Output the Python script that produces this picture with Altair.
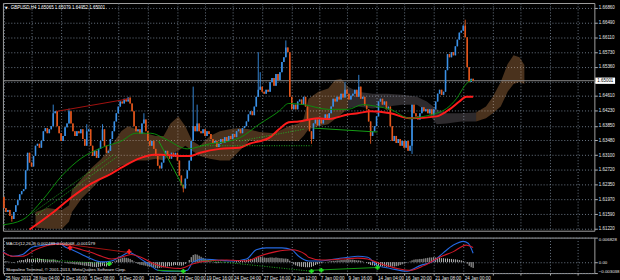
import altair as alt
import pandas as pd

# ---------------- texts ----------------
TITLE = "GBPUSD,H4  1.65065 1.65079 1.64952 1.65001"
MACD_TITLE = "MACD(12,26,9) 0.002489 0.004068 -0.001579"
COPYRIGHT = "Skopalino Terminal, \u00a9 2001-2013, MetaQuotes Software Corp."
LAST_PRICE = 1.65001

# ---------------- candles (H4, one value per bar) ----------------
first_open = 1.6203
closes = [
    1.6175, 1.6165, 1.6170, 1.6155, 1.6147, 1.6165, 1.6182, 1.6195, 1.6210, 1.6218,
    1.6223, 1.6271, 1.6316, 1.6291, 1.6281, 1.6308, 1.6334, 1.6339, 1.6329, 1.6346,
    1.6371, 1.6379, 1.6366, 1.6376, 1.6384, 1.6417, 1.6422, 1.6384, 1.6366, 1.6346,
    1.6359, 1.6381, 1.6391, 1.6422, 1.6391, 1.6371, 1.6359, 1.6371, 1.6366, 1.6376,
    1.6351, 1.6334, 1.6371, 1.6376, 1.6334, 1.6308, 1.6321, 1.6303, 1.6326, 1.6346,
    1.6376, 1.6334, 1.6316, 1.6321, 1.6351, 1.6371, 1.6396, 1.6417, 1.6434, 1.6447,
    1.6442, 1.6454, 1.6447, 1.6457, 1.6442, 1.6422, 1.6384, 1.6371, 1.6376, 1.6364,
    1.6391, 1.6401, 1.6371, 1.6346, 1.6334, 1.6346, 1.6326, 1.6308, 1.6283, 1.6276,
    1.6291, 1.6308, 1.6321, 1.6308, 1.6301, 1.6316, 1.6306, 1.6316, 1.6296, 1.6258,
    1.6233, 1.6225, 1.6250, 1.6271, 1.6296, 1.6346, 1.6384, 1.6371, 1.6391, 1.6371,
    1.6366, 1.6376, 1.6359, 1.6371, 1.6364, 1.6351, 1.6341, 1.6346, 1.6331, 1.6339,
    1.6351, 1.6341, 1.6356, 1.6346, 1.6359, 1.6351, 1.6364, 1.6356, 1.6371, 1.6376,
    1.6366, 1.6379, 1.6384, 1.6396, 1.6414, 1.6422, 1.6412, 1.6434, 1.6459, 1.6477,
    1.6485, 1.6472, 1.6467, 1.6477, 1.6472, 1.6497, 1.6507, 1.6487, 1.6517, 1.6502,
    1.6522, 1.6548, 1.6560, 1.6585, 1.6573, 1.6459, 1.6427, 1.6439, 1.6427, 1.6447,
    1.6452, 1.6439, 1.6459, 1.6434, 1.6401, 1.6371, 1.6351, 1.6391, 1.6401, 1.6386,
    1.6401, 1.6391, 1.6401, 1.6414, 1.6401, 1.6417, 1.6434, 1.6454, 1.6447, 1.6459,
    1.6452, 1.6467, 1.6457, 1.6477, 1.6467, 1.6452, 1.6462, 1.6467, 1.6477, 1.6459,
    1.6485, 1.6454, 1.6459, 1.6437, 1.6427, 1.6396, 1.6359, 1.6371, 1.6384, 1.6409,
    1.6447, 1.6454, 1.6439, 1.6447, 1.6427, 1.6434, 1.6384, 1.6346, 1.6359, 1.6341,
    1.6351, 1.6334, 1.6346, 1.6329, 1.6346, 1.6321, 1.6334, 1.6439, 1.6417, 1.6409,
    1.6401, 1.6417, 1.6432, 1.6422, 1.6427, 1.6417, 1.6427, 1.6412, 1.6427, 1.6447,
    1.6467, 1.6477, 1.6464, 1.6472, 1.6527, 1.6568, 1.6560, 1.6573, 1.6565, 1.6588,
    1.6605, 1.6623, 1.6628, 1.6641, 1.6611, 1.6535, 1.6497, 1.6505, 1.6500,
]
spike_high = {25: 1.6439, 33: 1.6429, 42: 1.6389, 50: 1.6389, 71: 1.6417, 96: 1.6485,
              98: 1.6439, 129: 1.6573, 130: 1.6522, 143: 1.6603, 173: 1.6497,
              180: 1.6515, 234: 1.6656}
spike_low = {4: 1.6140, 91: 1.6215, 156: 1.6339, 186: 1.6339, 207: 1.6313}

# ---------------- moving averages ----------------
red_ma_bar = [13, 24.5, 34.5, 44.5, 54.5, 59.5, 69.5, 76, 79.5, 89.5, 94.5, 99.5, 109.5,
              119.5, 124.5, 134.5, 139.5, 144.5, 149.5, 159.5, 164.5, 174.5, 179.5, 186,
              196, 206, 219.5, 226, 231, 234.5, 238]
red_ma_val = [1.6120, 1.6162, 1.6203, 1.6238, 1.6263, 1.6278, 1.6303, 1.6311, 1.6311,
              1.6308, 1.6308, 1.6316, 1.6326, 1.6329, 1.6339, 1.6354, 1.6376, 1.6394,
              1.6396, 1.6404, 1.6402, 1.6414, 1.6417, 1.6422, 1.6417, 1.6404, 1.6409,
              1.6427, 1.6447, 1.6459, 1.6459]
green_ma_bar = [-0.5, 9.5, 19.5, 29.5, 39.5, 49.5, 59.5, 67, 74.5, 82, 93, 104.5, 114.5,
                119.5, 129.5, 139.5, 144.5, 152, 164.5, 174.5, 182, 189.5, 196, 206, 213,
                219.5, 224.5, 229.5, 234.5, 237.5]
green_ma_val = [1.6132, 1.6145, 1.6195, 1.6258, 1.6303, 1.6329, 1.6346, 1.6366, 1.6366,
                1.6351, 1.6326, 1.6339, 1.6346, 1.6354, 1.6389, 1.6422, 1.6442, 1.6439,
                1.6427, 1.6427, 1.6439, 1.6434, 1.6427, 1.6404, 1.6409, 1.6417, 1.6429,
                1.6454, 1.6492, 1.6502]

# ---------------- Ichimoku cloud (three pieces) ----------------
cloud1_bar = [16, 22, 29.5, 33, 34.5, 39.5, 44.5, 49.5, 54.5, 59.5, 63, 67, 72, 77, 81,
              84.5, 88.5, 92, 95.5, 99.5, 104.5, 109.5, 114.5, 119.5, 124.5, 129.5, 137,
              144.5, 149.5, 152, 154.5, 159.5, 164.5, 168, 171, 174.5]
cloud1_top = [1.6165, 1.6175, 1.6170, 1.6182, 1.6220, 1.6250, 1.6278, 1.6301, 1.6334,
              1.6371, 1.6384, 1.6376, 1.6366, 1.6359, 1.6359, 1.6391, 1.6409, 1.6384,
              1.6346, 1.6334, 1.6359, 1.6371, 1.6376, 1.6379, 1.6376, 1.6369, 1.6366,
              1.6384, 1.6391, 1.6402, 1.6454, 1.6472, 1.6480, 1.6502, 1.6505, 1.6485]
cloud1_bot = [1.6125, 1.6122, 1.6122, 1.6140, 1.6165, 1.6200, 1.6225, 1.6250, 1.6266,
              1.6283, 1.6288, 1.6296, 1.6296, 1.6301, 1.6296, 1.6313, 1.6321, 1.6334,
              1.6321, 1.6308, 1.6301, 1.6296, 1.6296, 1.6321, 1.6346, 1.6346, 1.6346,
              1.6346, 1.6346, 1.6359, 1.6376, 1.6384, 1.6389, 1.6402, 1.6414, 1.6429]
cloud2_bar = [174.5, 179.5, 187, 194.5, 202, 209.5, 214.5, 219.5, 224.5, 232, 239.5]
cloud2_top = [1.6485, 1.6472, 1.6467, 1.6467, 1.6464, 1.6459, 1.6447, 1.6427, 1.6417,
              1.6417, 1.6419]
cloud2_bot = [1.6429, 1.6434, 1.6429, 1.6434, 1.6439, 1.6439, 1.6422, 1.6389, 1.6391,
              1.6396, 1.6396]
cloud3_bar = [239.5, 244.5, 248, 252, 255.5, 258.5, 261.5, 264]
cloud3_top = [1.6419, 1.6434, 1.6459, 1.6497, 1.6543, 1.6565, 1.6560, 1.6540]
cloud3_bot = [1.6396, 1.6404, 1.6417, 1.6434, 1.6472, 1.6492, 1.6497, 1.6492]

# ---------------- drawn trend lines (price panel) ----------------
trend_darkred = [(27, 1.6422), (63.5, 1.6454)]
trend_green_solid = [[(78.5, 1.6346), (91, 1.6228)], [(157, 1.6379), (189.5, 1.6369)]]
trend_green_dot = [[(14.5, 1.6162), (56, 1.6313)], [(16.5, 1.6157), (58, 1.6308)],
                   [(99.5, 1.6334), (156, 1.6334)], [(119.5, 1.6346), (152, 1.6376)]]

# ---------------- MACD panel ----------------
hist = [
    0.0002, 0.0003, 0.0002, 0.0001, -0.0001, -0.0002, 0.0000, 0.0003, 0.0005, 0.0006,
    0.0006, 0.0008, 0.0010, 0.0009, 0.0008, 0.0009, 0.0010, 0.0011, 0.0010, 0.0009,
    0.0009, 0.0008, 0.0008, 0.0007, 0.0007, 0.0008, 0.0007, 0.0005, 0.0003, 0.0001,
    0.0000, -0.0002, -0.0003, -0.0004, -0.0004, -0.0005, -0.0006, -0.0006, -0.0007, -0.0008,
    -0.0009, -0.0010, -0.0010, -0.0011, -0.0012, -0.0013, -0.0013, -0.0014, -0.0013, -0.0012,
    -0.0010, -0.0011, -0.0012, -0.0010, -0.0006, -0.0002, 0.0002, 0.0005, 0.0008, 0.0010,
    0.0012, 0.0013, 0.0012, 0.0011, 0.0009, 0.0006, 0.0002, -0.0002, -0.0005, -0.0007,
    -0.0008, -0.0009, -0.0010, -0.0012, -0.0013, -0.0014, -0.0015, -0.0016, -0.0017, -0.0016,
    -0.0015, -0.0014, -0.0013, -0.0012, -0.0011, -0.0010, -0.0009, -0.0008, -0.0008, -0.0009,
    -0.0010, -0.0009, -0.0005, 0.0000, 0.0006, 0.0014, 0.0020, 0.0022, 0.0021, 0.0018,
    0.0015, 0.0012, 0.0009, 0.0006, 0.0004, 0.0002, 0.0000, -0.0002, -0.0003, -0.0002,
    -0.0001, 0.0000, 0.0001, 0.0000, -0.0001, 0.0000, 0.0001, 0.0002, 0.0003, 0.0003,
    0.0004, 0.0004, 0.0005, 0.0006, 0.0008, 0.0009, 0.0009, 0.0010, 0.0012, 0.0014,
    0.0015, 0.0014, 0.0013, 0.0012, 0.0012, 0.0013, 0.0013, 0.0012, 0.0013, 0.0012,
    0.0011, 0.0011, 0.0010, 0.0010, 0.0009, 0.0004, -0.0002, -0.0006, -0.0009, -0.0011,
    -0.0012, -0.0013, -0.0013, -0.0014, -0.0014, -0.0014, -0.0013, -0.0011, -0.0008, -0.0006,
    -0.0004, -0.0003, -0.0001, 0.0000, 0.0001, 0.0002, 0.0003, 0.0004, 0.0004, 0.0005,
    0.0005, 0.0006, 0.0006, 0.0007, 0.0008, 0.0008, 0.0007, 0.0007, 0.0006, 0.0005,
    0.0005, 0.0004, 0.0002, 0.0000, -0.0002, -0.0005, -0.0008, -0.0009, -0.0010, -0.0011,
    -0.0011, -0.0011, -0.0012, -0.0012, -0.0013, -0.0013, -0.0013, -0.0012, -0.0012, -0.0011,
    -0.0010, -0.0008, -0.0006, -0.0004, -0.0002, 0.0000, 0.0002, 0.0005, 0.0007, 0.0008,
    0.0008, 0.0009, 0.0009, 0.0010, 0.0011, 0.0012, 0.0013, 0.0013, 0.0014, 0.0013,
    0.0012, 0.0012, 0.0011, 0.0011, 0.0010, 0.0010, 0.0009, 0.0009, 0.0008, 0.0008,
    0.0007, 0.0006, 0.0005, 0.0003, 0.0001, -0.0004, -0.0010, -0.0014, -0.0016,
]
macd_bar = [-0.5, 4.5, 9.5, 14.5, 21, 28, 31, 34.5, 39.5, 44.5, 49.5, 54.5, 59.5, 63.5, 66,
            69.5, 74.5, 78, 83, 89.5, 93, 96, 101, 108, 116, 123, 128, 133, 141, 146,
            149.5, 154.5, 161, 168, 174.5, 179.5, 184.5, 189.5, 196, 204.5, 211, 218, 223,
            228, 233, 235.5, 238]
macd_val = [0.00293, 0.00164, 0.00215, 0.00423, 0.00475, 0.00527, 0.00423, 0.00345, 0.00215,
            0.00086, 0.00008, 0.00034, 0.00164, 0.00267, 0.00215, 0.00086, -0.00096, -0.00226,
            -0.00252, -0.00252, -0.00226, 0.00008, 0.00086, 0.00060, 0.00034, 0.00086, 0.00345,
            0.00397, 0.00397, 0.00345, 0.00164, 0.00034, 0.00034, 0.00086, 0.00138, 0.00164,
            0.00138, -0.00096, -0.00174, -0.00252, -0.00096, 0.00034, 0.00267, 0.00475,
            0.00579, 0.00527, 0.00249]
signal_bar = [-0.5, 4.5, 9.5, 16, 23, 28, 33, 39.5, 44.5, 49.5, 54.5, 59.5, 64.5, 69.5, 76,
              83, 89.5, 96, 103, 113, 123, 129.5, 138, 146, 153, 154.5, 161, 171, 179.5,
              184.5, 191, 199.5, 206, 213, 221, 228, 234.5, 238]
signal_val = [0.00267, 0.00164, 0.00164, 0.00345, 0.00475, 0.00501, 0.00449, 0.00345,
              0.00267, 0.00164, 0.00086, 0.00138, 0.00215, 0.00138, -0.00044, -0.00148,
              -0.00174, -0.00044, 0.00034, 0.00060, 0.00034, 0.00164, 0.00293, 0.00345,
              0.00215, 0.00138, 0.00060, 0.00086, 0.00112, 0.00086, -0.00044, -0.00174,
              -0.00226, -0.00096, 0.00138, 0.00293, 0.00475, 0.00407]
macd_darkred = [(28, 0.00527), (63.5, 0.00267)]
macd_green_solid = [[(78, -0.00226), (91, -0.00252)], [(156, -0.00226), (189.5, -0.00148)]]
macd_green_dot = [[(14.5, 0.00086), (53.5, -0.00044)], [(101, 0.00060), (156, -0.00252)]]
cross_green_bar = [53.5, 91, 156, 161, 189.5]
cross_green_val = [-0.00044, -0.00252, -0.00252, -0.00226, -0.00148]
cross_red_bar = [33.5, 63.5]
cross_red_val = [0.00397, 0.00293]

# ---------------- axes ----------------
price_ticks = [1.66860, 1.66490, 1.66110, 1.65730, 1.65360, 1.64980, 1.64610, 1.64230,
               1.63850, 1.63480, 1.63100, 1.62720, 1.62350, 1.61970, 1.61590, 1.61220]
time_pos = [0, 14, 29, 43, 58, 73, 88, 102, 116, 131, 146, 160, 174, 189, 203, 218, 233]
time_lbl = ["25 Nov 2013", "28 Nov 04:00", "2 Dec 16:00", "5 Dec 08:00", "9 Dec 20:00",
            "12 Dec 12:00", "17 Dec 00:00", "19 Dec 16:00", "24 Dec 04:00", "27 Dec 16:00",
            "2 Jan 12:00", "7 Jan 00:00", "9 Jan 16:00", "14 Jan 04:00", "16 Jan 20:00",
            "21 Jan 08:00", "24 Jan 00:00"]
extra_grid = [248, 262, 277, 291]

# ---------------- styles ----------------
BG = "#000000"
GRID = "#6c7886"
TXT = "#e8e8e8"
FONT = "Liberation Sans"
BLUE_C = "#3a90e6"
ORANGE_C = "#e2561c"
RED_MA = "#ff1c1c"
GREEN_MA = "#0c8c0c"
TAN = "#f4a460"
THISTLE = "#cfc0cf"
W, H_P, H_M = 600, 231, 36

# ---------------- tables ----------------
n = len(closes)
opens = [first_open] + closes[:-1]
highs = [max(o, c, spike_high.get(i, c)) for i, (o, c) in enumerate(zip(opens, closes))]
lows = [min(o, c, spike_low.get(i, c)) for i, (o, c) in enumerate(zip(opens, closes))]
cdf = pd.DataFrame({"bar": list(range(n)), "open": opens, "close": closes,
                    "high": highs, "low": lows})
up_df = cdf[cdf["close"] >= cdf["open"]]
dn_df = cdf[cdf["close"] < cdf["open"]]

red_df = pd.DataFrame({"bar": red_ma_bar, "v": red_ma_val})
green_df = pd.DataFrame({"bar": green_ma_bar, "v": green_ma_val})
tan_df = pd.concat([
    pd.DataFrame({"bar": cloud1_bar, "top": cloud1_top, "bot": cloud1_bot, "seg": "a"}),
    pd.DataFrame({"bar": cloud3_bar, "top": cloud3_top, "bot": cloud3_bot, "seg": "c"}),
])
gray_df = pd.DataFrame({"bar": cloud2_bar, "top": cloud2_top, "bot": cloud2_bot})


def seg_df(segments):
    rows = []
    for si, seg in enumerate(segments):
        for b, v in seg:
            rows.append({"seg": si, "bar": b, "v": v})
    return pd.DataFrame(rows)


tr_red = seg_df([trend_darkred])
tr_gs = seg_df(trend_green_solid)
tr_gd = seg_df(trend_green_dot)

hist_df = pd.DataFrame({"bar": list(range(len(hist))), "h": hist, "z": 0.0})
macd_df = pd.DataFrame({"bar": macd_bar, "v": macd_val})
sig_df = pd.DataFrame({"bar": signal_bar, "v": signal_val})
m_red = seg_df([macd_darkred])
m_gs = seg_df(macd_green_solid)
m_gd = seg_df(macd_green_dot)
cg_df = pd.DataFrame({"bar": cross_green_bar, "v": cross_green_val})
cr_df = pd.DataFrame({"bar": cross_red_bar, "v": cross_red_val})

# ---------------- scales & axes ----------------
xs = alt.Scale(domain=[-0.5, 299.5], nice=False, zero=False)
ys = alt.Scale(domain=[1.61169, 1.66986], nice=False, zero=False)
ms = alt.Scale(domain=[-0.003038, 0.006828], nice=False, zero=False)

grid_vals = time_pos + extra_grid
time_expr = " : ".join(f"datum.value == {p} ? '{l}'" for p, l in zip(time_pos, time_lbl)) + " : ''"

ax_top = alt.Axis(values=grid_vals, grid=True, gridDash=[1, 2], gridColor=GRID,
                  labels=False, ticks=False, domain=False, title=None)
ax_bot = alt.Axis(values=grid_vals, grid=True, gridDash=[1, 2], gridColor=GRID,
                  labelExpr=time_expr, labelAlign="left", labelFontSize=4.6,
                  labelColor=TXT, labelFont=FONT, labelPadding=1, labelOffset=1,
                  tickSize=2, tickColor="#b0b0b0", domain=False, title=None,
                  labelOverlap=False, labelFlush=False, labelBound=False)
ay_price = alt.Axis(orient="right", values=price_ticks, grid=True, gridDash=[1, 2],
                    gridColor=GRID,
                    labelExpr="abs(datum.value - 1.6498) < 0.00001 ? '' : format(datum.value, '.5f')",
                    labelFontSize=4.5, labelColor=TXT, labelFont=FONT, labelPadding=1,
                    tickSize=3, tickColor="#b0b0b0", domain=False, title=None,
                    labelOverlap=False)
ay_macd = alt.Axis(orient="right", values=[0.006828, 0.0, -0.003038], grid=True,
                   gridDash=[1, 2], gridColor=GRID,
                   labelExpr="datum.value == 0 ? '0.00' : format(datum.value, '.6f')",
                   labelFontSize=4.4, labelColor=TXT, labelFont=FONT, labelPadding=1,
                   labelFlush=True, tickSize=3, tickColor="#b0b0b0", domain=False,
                   title=None, labelOverlap=False)


def PX(f):
    return alt.X(f, type="quantitative", scale=xs, axis=ax_top)


def PY(f):
    return alt.Y(f, type="quantitative", scale=ys, axis=ay_price)


def MX(f):
    return alt.X(f, type="quantitative", scale=xs, axis=ax_bot)


def MY(f):
    return alt.Y(f, type="quantitative", scale=ms, axis=ay_macd)


# ---------------- price panel ----------------
cloud_tan = alt.Chart(tan_df).mark_area(opacity=0.3, color=TAN).encode(
    x=PX("bar"), y=PY("top"), y2="bot", detail="seg:N")
cloud_gray = alt.Chart(gray_df).mark_area(opacity=0.22, color=THISTLE).encode(
    x=PX("bar"), y=PY("top"), y2="bot")
last_df = pd.DataFrame({"p": [LAST_PRICE], "t": [f"{LAST_PRICE:.5f}"]})
last_line = alt.Chart(last_df).mark_rule(color="#8a8a8a", strokeWidth=1).encode(y=PY("p"))

wick_up = alt.Chart(up_df).mark_rule(strokeWidth=0.9, color=BLUE_C).encode(
    x=PX("bar"), y=PY("low"), y2="high")
body_up = alt.Chart(up_df).mark_rule(strokeWidth=1.6, color=BLUE_C).encode(
    x=PX("bar"), y=PY("open"), y2="close")
wick_dn = alt.Chart(dn_df).mark_rule(strokeWidth=0.9, color=ORANGE_C).encode(
    x=PX("bar"), y=PY("low"), y2="high")
body_dn = alt.Chart(dn_df).mark_rule(strokeWidth=1.6, color=ORANGE_C).encode(
    x=PX("bar"), y=PY("open"), y2="close")

ma_red = alt.Chart(red_df).mark_line(interpolate="monotone", color=RED_MA, strokeWidth=2).encode(
    x=PX("bar"), y=PY("v"))
ma_green = alt.Chart(green_df).mark_line(interpolate="monotone", color=GREEN_MA, strokeWidth=1).encode(
    x=PX("bar"), y=PY("v"))
tl_red = alt.Chart(tr_red).mark_line(color="#a3120f", strokeWidth=1).encode(
    x=PX("bar"), y=PY("v"), detail="seg:N")
tl_gs = alt.Chart(tr_gs).mark_line(color="#15a015", strokeWidth=1).encode(
    x=PX("bar"), y=PY("v"), detail="seg:N")
tl_gd = alt.Chart(tr_gd).mark_line(color="#22b022", strokeWidth=1, strokeDash=[1, 1.5]).encode(
    x=PX("bar"), y=PY("v"), detail="seg:N")

title_txt = alt.Chart(pd.DataFrame({"t": [TITLE]})).mark_text(
    align="left", baseline="middle", font=FONT, fontSize=4.5, color="#ffffff").encode(
    x=alt.value(8), y=alt.value(5), text="t:N")
tri_txt = alt.Chart(pd.DataFrame({"t": ["\u25bc"]})).mark_text(
    align="left", baseline="middle", font="DejaVu Sans", fontSize=3.5, color="#ffffff").encode(
    x=alt.value(2), y=alt.value(5), text="t:N")

box = alt.Chart(last_df).mark_point(
    shape="M-1,-0.32L1,-0.32L1,0.32L-1,0.32Z", filled=True, size=400, opacity=1,
    color="#ffffff", strokeWidth=0).encode(x=alt.value(611), y=PY("p"))
box_txt = alt.Chart(last_df).mark_text(align="left", baseline="middle", font=FONT,
                                       fontSize=4.5, color="#000000").encode(
    x=alt.value(603), y=PY("p"), text="t:N")

price = alt.layer(cloud_tan, cloud_gray, last_line, wick_up, body_up, wick_dn, body_dn,
                  ma_red, ma_green, tl_red, tl_gs, tl_gd,
                  title_txt, tri_txt, box, box_txt).properties(width=W, height=H_P)

# ---------------- MACD panel ----------------
hbars = alt.Chart(hist_df).mark_rule(color="#b8b8b8", strokeWidth=1).encode(
    x=MX("bar"), y=MY("z"), y2="h")
l_macd = alt.Chart(macd_df).mark_line(strokeWidth=1.1, interpolate="monotone", color="#2468e0").encode(
    x=MX("bar"), y=MY("v"))
l_sig = alt.Chart(sig_df).mark_line(strokeWidth=1.1, interpolate="monotone", color="#d01828").encode(
    x=MX("bar"), y=MY("v"))
ml_red = alt.Chart(m_red).mark_line(color="#a3120f", strokeWidth=1).encode(
    x=MX("bar"), y=MY("v"), detail="seg:N")
ml_gs = alt.Chart(m_gs).mark_line(color="#15a015", strokeWidth=1).encode(
    x=MX("bar"), y=MY("v"), detail="seg:N")
ml_gd = alt.Chart(m_gd).mark_line(color="#22b022", strokeWidth=1, strokeDash=[1, 1.5]).encode(
    x=MX("bar"), y=MY("v"), detail="seg:N")
cross_g = alt.Chart(cg_df).mark_point(shape="cross", filled=True, size=22, opacity=1,
                                      color="#22dd22").encode(x=MX("bar"), y=MY("v"))
cross_r = alt.Chart(cr_df).mark_point(shape="cross", filled=True, size=22, opacity=1,
                                      color="#ff2020").encode(x=MX("bar"), y=MY("v"))
macd_txt = alt.Chart(pd.DataFrame({"t": [MACD_TITLE]})).mark_text(
    align="left", baseline="middle", font=FONT, fontSize=4.4, color=TXT).encode(
    x=alt.value(3), y=alt.value(6), text="t:N")
copy_txt = alt.Chart(pd.DataFrame({"t": [COPYRIGHT]})).mark_text(
    align="left", baseline="middle", font=FONT, fontSize=4.4, color=TXT).encode(
    x=alt.value(3), y=alt.value(33), text="t:N")

macd = alt.layer(hbars, l_macd, l_sig, ml_red, ml_gs, ml_gd, cross_g, cross_r,
                 macd_txt, copy_txt).properties(width=W, height=H_M)

chart = alt.vconcat(price, macd, spacing=1).properties(
    padding={"left": 0, "top": 0, "right": 0, "bottom": 0}
).configure(background=BG).configure_view(stroke="#a0a0a0", strokeWidth=1)

chart.save("out.html", embed_options={"renderer": "svg", "actions": False})
